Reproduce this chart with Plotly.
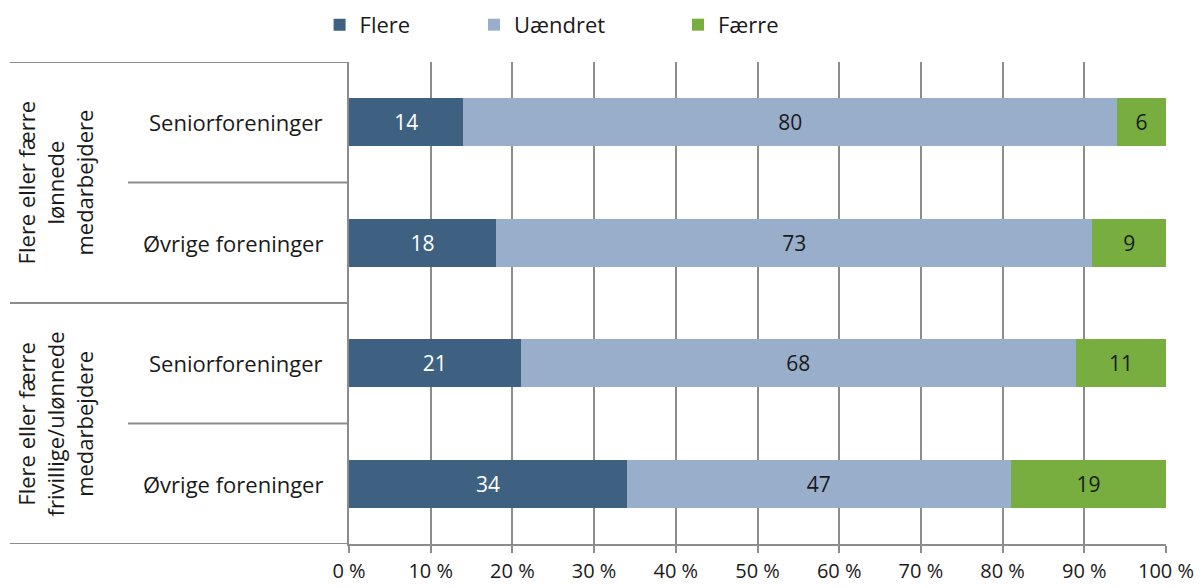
import plotly.graph_objects as go

groups = ["Flere eller færre<br>lønnede<br>medarbejdere",
          "Flere eller færre<br>frivillige/ulønnede<br>medarbejdere"]
categories = ["Seniorforeninger", "Øvrige foreninger", "Seniorforeninger", "Øvrige foreninger"]
flere = [14, 18, 21, 34]
uaendret = [80, 73, 68, 47]
faerre = [6, 9, 11, 19]
series_names = ["Flere", "Uændret", "Færre"]
colors = ["#3e6182", "#98aecb", "#78ad40"]
text_colors = ["#ffffff", "#1a1a1a", "#1a1a1a"]
x_ticks = [0, 10, 20, 30, 40, 50, 60, 70, 80, 90, 100]
x_tick_labels = [f"{v} %" for v in x_ticks]

FONT = "Open Sans"
GRID = "#8c8c8c"

pos = list(range(len(categories)))
fig = go.Figure()
legend_ids = ["legend", "legend2", "legend3"]
for name, vals, col, tcol, lg in zip(series_names, [flere, uaendret, faerre], colors, text_colors, legend_ids):
    fig.add_trace(go.Bar(
        y=pos, x=vals, orientation="h", name=name,
        marker=dict(color=col, line=dict(width=0)),
        width=0.4,
        text=[str(v) for v in vals],
        textposition="inside", insidetextanchor="middle",
        textangle=0, constraintext="none",
        textfont=dict(color=tcol, size=21, family=FONT),
        legend=lg, hoverinfo="x+name",
    ))

annotations = []
for i, c in enumerate(categories):
    annotations.append(dict(x=-0.0294, y=i, xref="paper", yref="y", text=c,
                            showarrow=False, xanchor="right", yanchor="middle",
                            font=dict(size=22, family=FONT, color="#1a1a1a")))
for g, yc in zip(groups, [0.5, 2.5]):
    annotations.append(dict(x=-0.36, y=yc, xref="paper", yref="y", text=g,
                            showarrow=False, textangle=-90, align="center",
                            xanchor="center", yanchor="middle",
                            font=dict(size=22, family=FONT, color="#1a1a1a")))

shapes = []
for yb, x0 in [(-0.5, -0.415), (0.5, -0.2705), (1.5, -0.415), (2.5, -0.2705), (3.5, -0.415)]:
    shapes.append(dict(type="line", xref="paper", yref="y", x0=x0, x1=0, y0=yb, y1=yb,
                       line=dict(color=GRID, width=2)))

leg_common = dict(orientation="h", yanchor="middle", y=1.077, xanchor="left",
                  font=dict(size=22, family=FONT, color="#1a1a1a"),
                  bgcolor="rgba(0,0,0,0)", borderwidth=0)

fig.update_layout(
    width=1204, height=588,
    margin=dict(l=349, r=38, t=62, b=44, autoexpand=False),
    paper_bgcolor="white", plot_bgcolor="white",
    barmode="stack",
    showlegend=True,
    legend=dict(x=-0.036, **leg_common),
    legend2=dict(x=0.153, **leg_common),
    legend3=dict(x=0.4027, **leg_common),
    xaxis=dict(range=[0, 100], tickvals=x_ticks, ticktext=x_tick_labels,
               showgrid=True, gridcolor=GRID, gridwidth=2,
               showline=True, linecolor=GRID, linewidth=2,
               ticks="outside", ticklen=7, tickwidth=2, tickcolor=GRID,
               ticklabelstandoff=1, automargin=False,
               zeroline=False, fixedrange=True,
               tickfont=dict(size=20, family=FONT, color="#1a1a1a")),
    yaxis=dict(range=[3.5, -0.5], showgrid=False, showticklabels=False,
               showline=True, linecolor=GRID, linewidth=2, ticks="",
               zeroline=False, fixedrange=True, automargin=False),
    annotations=annotations,
    shapes=shapes,
)

fig.write_html("out.html", config={"displayModeBar": False},
               post_script="document.body.style.margin='0';document.body.style.overflow='hidden';")
